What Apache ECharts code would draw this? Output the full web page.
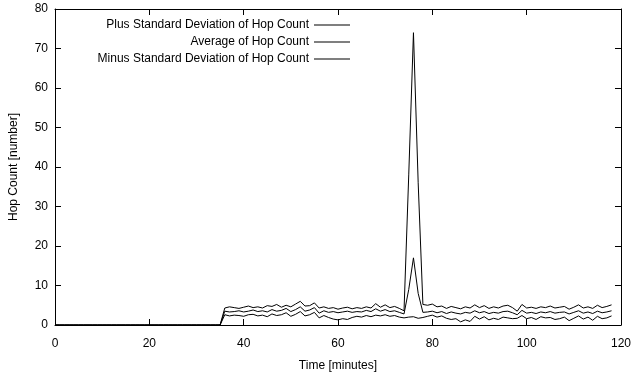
<!DOCTYPE html>
<html>
<head>
<meta charset="utf-8">
<script src="https://cdn.jsdelivr.net/npm/echarts@6/dist/echarts.min.js"></script>
<style>html,body{margin:0;padding:0;background:#fff}#c{width:634px;height:384px}</style>
</head>
<body>
<div id="c"></div>
<script>
// Time in minutes (one sample per minute)
var times = [];
for (var i = 0; i <= 118; i++) times.push(i);

var zeros36 = [0,0,0,0,0,0,0,0,0,0,0,0,0,0,0,0,0,0,0,0,0,0,0,0,0,0,0,0,0,0,0,0,0,0,0,0];

var plusStd = zeros36.concat([
  4.3,4.6,4.4,4.2,4.5,4.8,4.4,4.6,4.3,4.9,4.7,5.2,4.5,5.0,4.6,5.3,6.0,4.8,4.9,5.6,4.3,
  4.6,4.2,4.4,4.0,4.3,4.5,4.1,4.4,4.2,4.6,4.3,5.4,4.5,5.1,4.4,4.7,4.2,
  3.6,38,74,36,5.2,
  5.0,5.3,4.6,4.8,4.2,4.7,4.4,4.1,4.6,4.3,5.1,4.4,4.9,4.2,4.6,4.3,4.8,5.0,4.4,3.5,
  5.2,4.3,4.5,4.2,4.6,4.4,4.8,4.3,4.5,4.7,4.0,4.5,5.1,4.3,4.6,4.2,5.0,4.4,4.7,5.1
]);

var average = zeros36.concat([
  3.5,3.3,3.4,3.6,3.3,3.5,3.8,3.4,3.6,3.3,3.9,3.5,3.7,4.2,3.4,3.9,4.6,3.5,3.8,4.4,3.0,
  3.6,3.2,3.4,3.1,3.3,3.5,3.2,3.4,3.3,3.7,3.4,4.1,3.5,3.9,3.4,3.6,3.2,
  2.8,9,17,8,3.2,
  3.3,3.5,3.1,3.4,2.9,3.3,3.0,2.8,3.2,3.0,3.6,3.1,3.4,2.9,3.2,3.0,3.4,3.5,3.1,2.6,
  3.7,3.0,3.2,2.9,3.3,3.1,3.4,3.0,3.2,3.3,2.8,3.2,3.6,3.0,3.3,2.9,3.5,3.1,3.3,3.6
]);

var minusStd = zeros36.concat([
  2.6,2.3,2.5,2.4,2.2,2.6,2.7,2.3,2.5,2.1,2.8,2.4,2.6,3.1,2.2,2.7,3.4,2.3,2.6,3.2,1.8,
  2.4,1.9,1.5,1.3,1.6,1.4,1.9,2.2,2.0,2.4,2.1,2.5,2.3,2.6,2.2,2.4,2.0,
  1.8,2.0,2.1,1.7,1.9,
  2.2,2.5,2.0,2.3,1.7,1.4,1.6,0.8,1.3,0.9,2.2,1.5,2.1,1.3,1.7,1.4,2.0,1.8,1.6,1.7,
  2.4,1.6,1.9,1.4,2.1,1.8,1.9,1.4,1.6,2.0,1.1,1.7,2.3,1.5,2.0,1.2,2.2,1.6,1.8,2.3
]);

var seriesNames = [
  'Plus Standard Deviation of Hop Count',
  'Average of Hop Count',
  'Minus Standard Deviation of Hop Count'
];
var seriesValues = [plusStd, average, minusStd];

function pairs(vals) {
  return times.map(function (t, i) { return [t, vals[i]]; });
}

var FONT = 'Liberation Sans, Arial, Helvetica, sans-serif';
var chart = echarts.init(document.getElementById('c'));

var axisLine = { show: true, onZero: false, lineStyle: { color: '#000', width: 1 } };
var axisTick = { show: true, inside: true, length: 6, lineStyle: { color: '#000', width: 1 } };
var labelStyle = { color: '#000', fontFamily: FONT, fontSize: 12 };

var legends = seriesNames.map(function (n, i) {
  return {
    data: [n],
    orient: 'vertical',
    align: 'right',
    right: 284,
    top: 19 + i * 17,
    padding: 0,
    itemWidth: 36,
    itemHeight: 13,
    icon: 'path://M0,0H36V1H0Z',
    itemStyle: { color: '#000' },
    textStyle: { color: '#000', fontFamily: FONT, fontSize: 12 },
    selectedMode: false
  };
});

chart.setOption({
  animation: false,
  backgroundColor: '#fff',
  grid: { left: 55, right: 11, top: 9, bottom: 59, containLabel: false },
  legend: legends,
  xAxis: [{
    type: 'value', min: 0, max: 120, interval: 20,
    position: 'bottom',
    name: 'Time [minutes]', nameLocation: 'middle', nameGap: 35,
    nameTextStyle: { color: '#000', fontFamily: FONT, fontSize: 12 },
    axisLine: axisLine, axisTick: axisTick,
    axisLabel: Object.assign({ margin: 13 }, labelStyle),
    splitLine: { show: false }
  }, {
    type: 'value', min: 0, max: 120, interval: 20,
    position: 'top',
    axisLine: axisLine, axisTick: axisTick,
    axisLabel: { show: false }, splitLine: { show: false }
  }],
  yAxis: [{
    type: 'value', min: 0, max: 80, interval: 10,
    position: 'left',
    name: 'Hop Count [number]', nameLocation: 'middle', nameGap: 35,
    nameTextStyle: { color: '#000', fontFamily: FONT, fontSize: 12 },
    axisLine: axisLine, axisTick: axisTick,
    axisLabel: Object.assign({ margin: 7 }, labelStyle),
    splitLine: { show: false }
  }, {
    type: 'value', min: 0, max: 80, interval: 10,
    position: 'right',
    axisLine: axisLine, axisTick: axisTick,
    axisLabel: { show: false }, splitLine: { show: false }
  }],
  series: seriesNames.map(function (n, i) {
    return {
      name: n,
      type: 'line',
      xAxisIndex: 0, yAxisIndex: 0,
      data: pairs(seriesValues[i]),
      symbol: 'none',
      showSymbol: false,
      color: '#000',
      lineStyle: { color: '#000', width: 1 },
      itemStyle: { color: '#000' },
      emphasis: { disabled: true }
    };
  })
});
</script>
</body>
</html>
